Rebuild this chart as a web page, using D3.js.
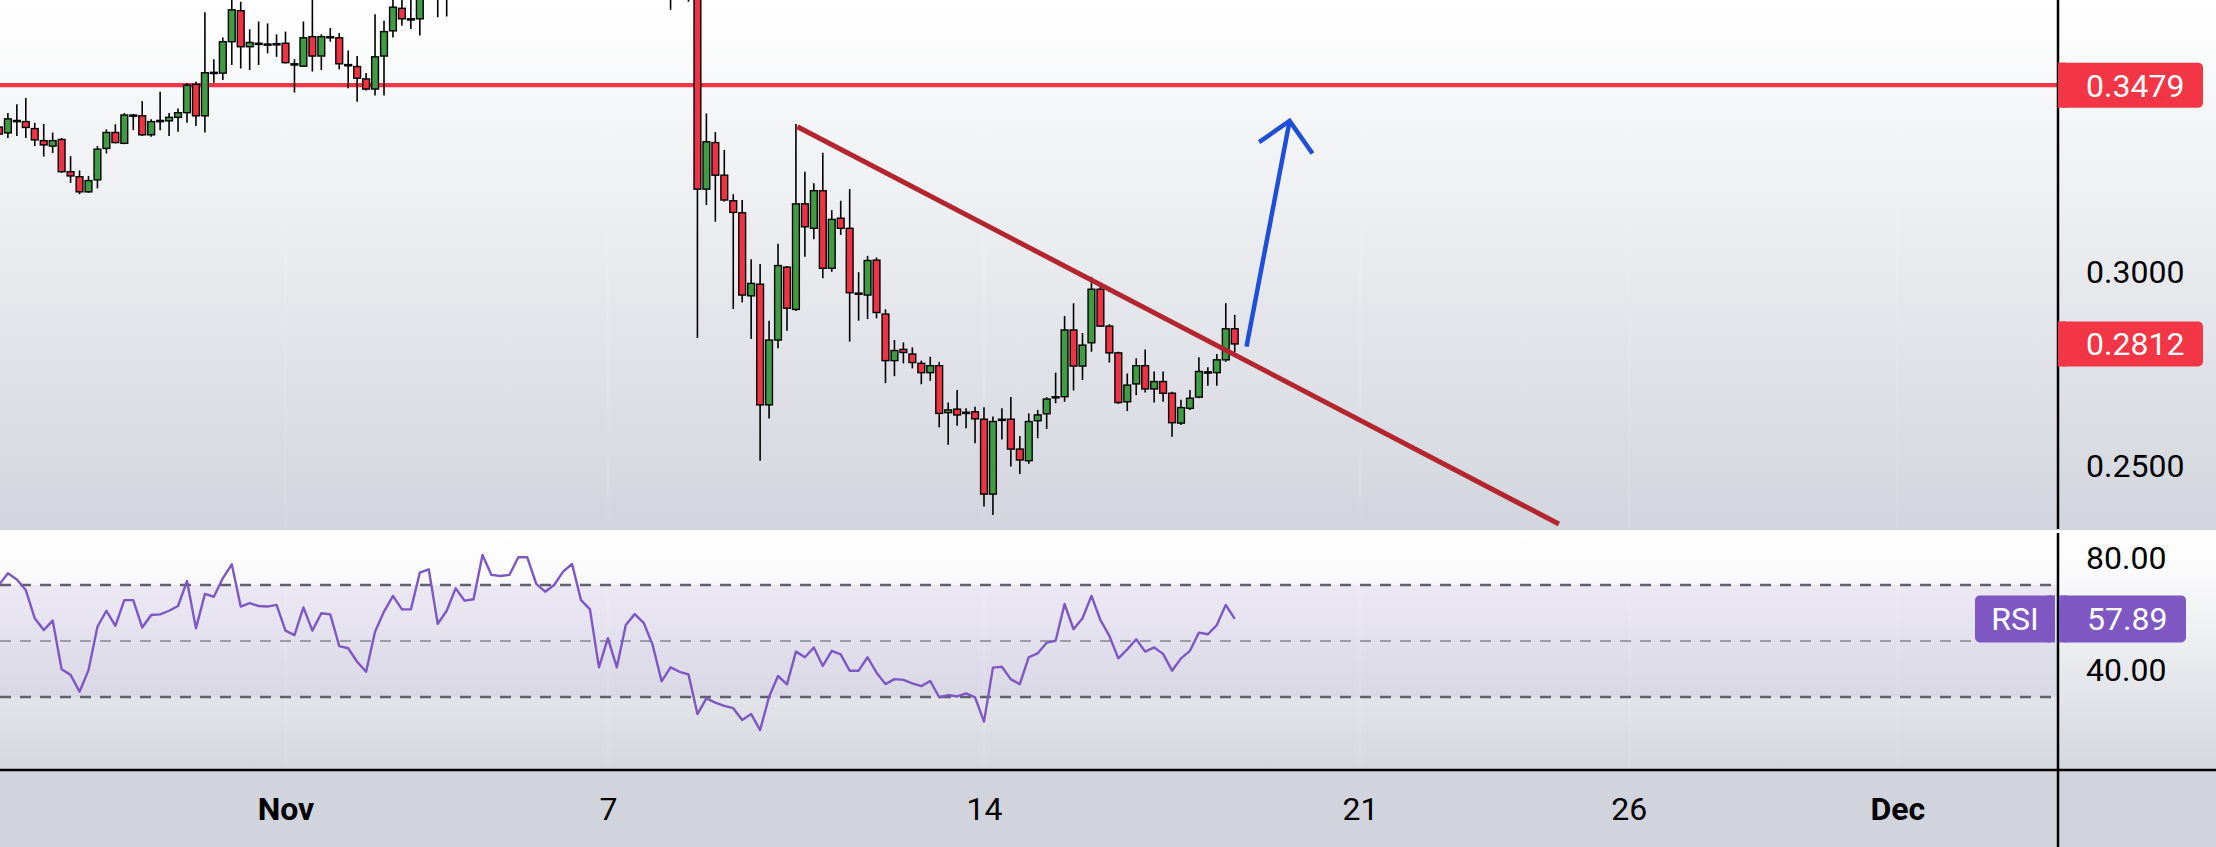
<!DOCTYPE html>
<html><head><meta charset="utf-8">
<script src="https://cdn.jsdelivr.net/npm/d3@7"></script>
<style>html,body{margin:0;padding:0;background:#fff;overflow:hidden}svg{display:block;font-family:Roboto,"Noto Sans",sans-serif}</style>
</head><body><svg id="c" width="2216" height="847"></svg>
<script>
// ---------- DATA ----------
const firstCandle = Date.UTC(2022, 9, 26, 16); // 4h candles
const candleHours = 4;
const opens = [.3371,.3356,.3386,.3385,.3367,.3336,.3322,.3339,.3256,.3243,.3204,.3235,.3316,.3357,.3329,.3402,.3400,.3351,.3388,.3387,.3396,.3408,.3481,.3400,.3511,.3510,.3591,.3671,.3578,.3587,
.3584,.3585,.3587,.3533,.3528,.3604,.3554,.3604,.3601,.3531,.3527,.3495,.3469,.3554,.3619,.3677,.3649,.3650,.3719,.3770,
.3712,.3740,.3800,.3780,.3785,.3880,.3850,.3848,.3855,.3920,.3922,.3890,.3875,.3890,.3925,.3950,.3890,.3875,.3770,.3810,
.3760,.3830,.3850,.3835,.3800,.3735,.3750,.3745,.3740,.3211,.3331,.3247,.3181,.3150,.2936,.2966,.2655,.2822,.3010,.2901,
.3173,.3110,.3207,.3007,.3136,.3110,.2943,.2938,.3028,.2889,.2769,.2798,.2786,.2762,.2738,.2756,.2635,.2644,.2635,.2637,
.2618,.2425,.2618,.2618,.2541,.2511,.2614,.2632,.2675,.2676,.2848,.2755,.2815,.2953,.2858,.2789,.2663,.2709,.2756,.2696,
.2715,.2685,.2608,.2646,.2675,.2738,.2738,.2771,.2851];
const highs = [.3381,.3407,.3430,.3446,.3382,.3379,.3357,.3343,.3296,.3259,.3245,.3322,.3365,.3378,.3407,.3405,.3438,.3391,.3462,.3407,.3419,.3484,.3488,.3667,.3546,.3602,.3706,.3694,.3623,.3643,
.3638,.3610,.3617,.3546,.3643,.3711,.3610,.3626,.3613,.3568,.3554,.3510,.3662,.3645,.3711,.3711,.3711,.3737,.3805,.3820,
.3790,.3830,.3825,.3815,.3910,.3905,.3875,.3880,.3950,.3945,.3935,.3910,.3915,.3945,.3985,.3965,.3905,.3885,.3830,.3825,
.3850,.3875,.3865,.3845,.3810,.3775,.3770,.3765,.3760,.3406,.3358,.3312,.3198,.3183,.3030,.3018,.2872,.3070,.3013,.3379,
.3256,.3226,.3305,.3157,.3181,.3211,.2997,.3039,.3035,.2901,.2822,.2816,.2803,.2769,.2779,.2766,.2661,.2693,.2646,.2650,
.2649,.2625,.2646,.2675,.2575,.2633,.2642,.2675,.2738,.2884,.2917,.2840,.2985,.2961,.2863,.2792,.2736,.2775,.2798,.2741,
.2741,.2689,.2668,.2693,.2778,.2752,.2786,.2917,.2887];
const lows = [.3348,.3343,.3348,.3343,.3322,.3295,.3304,.3253,.3227,.3198,.3202,.3213,.3303,.3329,.3327,.3363,.3348,.3346,.3363,.3348,.3359,.3382,.3374,.3357,.3485,.3492,.3531,.3522,.3518,.3531,
.3561,.3552,.3535,.3460,.3527,.3514,.3518,.3591,.3520,.3471,.3436,.3465,.3452,.3452,.3602,.3632,.3624,.3607,.3710,.3654,
.3656,.3725,.3760,.3750,.3775,.3830,.3825,.3830,.3845,.3895,.3870,.3855,.3860,.3880,.3915,.3870,.3850,.3740,.3750,.3735,
.3750,.3815,.3815,.3780,.3715,.3673,.3712,.3694,.2827,.3170,.3127,.3179,.2902,.2919,.2825,.2511,.2620,.2801,.2846,.2897,
.3037,.3082,.2981,.2998,.3093,.2818,.2872,.2876,.2878,.2711,.2729,.2762,.2749,.2708,.2717,.2597,.2552,.2601,.2595,.2556,
.2393,.2371,.2566,.2496,.2477,.2503,.2569,.2593,.2659,.2663,.2692,.2719,.2792,.2856,.2764,.2657,.2639,.2680,.2687,.2661,
.2663,.2573,.2603,.2642,.2672,.2704,.2704,.2766,.2791];
const closes = [.3353,.3392,.3388,.3370,.3338,.3325,.3336,.3256,.3245,.3204,.3233,.3314,.3357,.3331,.3402,.3401,.3351,.3385,.3387,.3396,.3408,.3479,.3400,.3511,.3512,.3591,.3673,.3578,.3589,.3586,
.3585,.3586,.3537,.3534,.3601,.3554,.3604,.3603,.3534,.3532,.3497,.3469,.3552,.3617,.3680,.3650,.3650,.3719,.3770,.3712,
.3740,.3800,.3780,.3785,.3880,.3850,.3848,.3855,.3920,.3922,.3890,.3875,.3890,.3925,.3950,.3890,.3875,.3770,.3810,.3760,
.3830,.3850,.3835,.3800,.3735,.3750,.3745,.3740,.3211,.3333,.3247,.3183,.3151,.2938,.2968,.2655,.2822,.3014,.2904,.3173,
.3114,.3207,.3007,.3133,.3110,.2944,.2942,.3027,.2893,.2769,.2795,.2790,.2764,.2738,.2756,.2633,.2642,.2629,.2636,.2619,
.2425,.2612,.2617,.2541,.2513,.2612,.2629,.2670,.2676,.2848,.2755,.2809,.2953,.2858,.2789,.2661,.2706,.2756,.2696,.2715,
.2685,.2609,.2648,.2672,.2741,.2740,.2771,.2851,.2812];
const rsiValues = [70,74.2,72,68.2,58.1,53.9,57.3,39.9,37.9,31.9,39.6,55.1,60.8,55.4,64.6,64.6,54.8,59.3,59.5,60.8,
62.5,71.4,54.5,66.8,65.8,72.4,77.4,62.3,63.5,62.5,62.3,62.9,53.7,52.1,62.0,53.7,59.9,59.5,48.2,47.4,
42.6,39.0,53.3,60.5,66.1,61.3,61.3,74.4,75.6,56.1,60.8,68.8,64.4,64.9,80.7,73.6,73.2,73.6,79.9,79.9,
70.4,67.6,70.0,74.8,77.5,64.6,61.3,40.6,51.0,40.6,55.7,59.6,56.5,48.6,35.6,40.6,39.0,38.1,23.9,29.5,
28.0,26.8,26.0,21.8,23.9,18.2,30.1,37.5,34.5,46.2,44.2,47.7,41.1,46.5,45.2,39.4,39.4,44.2,38.7,34.6,
36.4,36.1,34.9,33.9,35.7,29.9,30.7,30.2,31.3,29.9,21.2,40.5,40.8,36.3,34.6,44.2,45.6,49.4,50.1,63.2,
54.2,58.1,66.1,57.5,51.8,43.8,47.0,50.6,46.2,47.7,45.4,39.4,43.8,46.5,53.0,52.4,55.7,62.9,57.89];
const dateTicks = [Date.UTC(2022,10,1),Date.UTC(2022,10,7),Date.UTC(2022,10,14),Date.UTC(2022,10,21),Date.UTC(2022,10,26),Date.UTC(2022,11,1)];
const dateLabels = ["Nov","7","14","21","26","Dec"];
const boldLabels = ["Nov","Dec"];
const priceTicks = [0.25,0.30];
const rsiTicks = [40,80];
const rsiLevels = [70,50,30];
const resistance = 0.3479;
const trendLine = [{t:Date.UTC(2022,10,10,12,40),p:0.3372},{t:Date.UTC(2022,10,24,16,48),p:0.2348}];
const arrowShaft = [{t:Date.UTC(2022,10,18,21,16),p:0.2805},{t:Date.UTC(2022,10,19,16,31),p:0.3387}];
const arrowHead = [{t:Date.UTC(2022,10,19,2,53),p:0.3332},{t:Date.UTC(2022,10,19,16,31),p:0.3387},{t:Date.UTC(2022,10,20,2,44),p:0.3303}];

// ---------- LAYOUT ----------
const W=2216,H=847, PR=2058, MB=530, RT=531, RB=770;
const candles = opens.map((o,i)=>({t:new Date(firstCandle+i*candleHours*3600e3),o,h:highs[i],l:lows[i],c:closes[i],r:rsiValues[i]}));

const x = d3.scaleUtc().domain([new Date(Date.UTC(2022,10,1)),new Date(Date.UTC(2022,11,1))]).range([285.5,1897.4]);
const y = d3.scaleLinear().domain([0.25,0.30]).range([465,271]);
const yr = d3.scaleLinear().domain([30,70]).range([697,585]);

const svg = d3.select("#c");
const defs = svg.append("defs");
function vgrad(id,stops){const g=defs.append("linearGradient").attr("id",id).attr("x1",0).attr("y1",0).attr("x2",0).attr("y2",1);stops.forEach(s=>g.append("stop").attr("offset",s[0]).attr("stop-color",s[1]));}
vgrad("gMain",[[0,"#ffffff"],[1,"#d2d5dd"]]);
vgrad("gRsi",[[0,"#ffffff"],[0.15,"#fbfbfc"],[1,"#d5d7df"]]);
defs.append("clipPath").attr("id","cpMain").append("rect").attr("x",0).attr("y",0).attr("width",PR).attr("height",MB);
defs.append("clipPath").attr("id","cpRsi").append("rect").attr("x",0).attr("y",RT).attr("width",PR).attr("height",RB-RT);

// backgrounds
svg.append("rect").attr("x",0).attr("y",0).attr("width",W).attr("height",MB).attr("fill","url(#gMain)");
svg.append("rect").attr("x",0).attr("y",RT).attr("width",W).attr("height",RB-RT).attr("fill","url(#gRsi)");
svg.append("rect").attr("x",0).attr("y",RB).attr("width",W).attr("height",H-RB).attr("fill","#d1d4dc");
svg.append("rect").attr("x",0).attr("y",yr(70)).attr("width",PR).attr("height",yr(30)-yr(70)).attr("fill","#7e57c2").attr("opacity",0.09);

// faint vertical grid
svg.append("g").selectAll("line").data(dateTicks).join("line")
  .attr("x1",d=>x(d)).attr("x2",d=>x(d)).attr("y1",0).attr("y2",RB)
  .attr("stroke","#ffffff").attr("stroke-opacity",0.1).attr("stroke-width",2);

// RSI level lines
svg.append("g").selectAll("line").data(rsiLevels).join("line")
  .attr("x1",0).attr("x2",PR).attr("y1",d=>yr(d)).attr("y2",d=>yr(d))
  .attr("stroke",d=>d===50?"#9a9ca6":"#5f626e").attr("stroke-width",d=>d===50?2:2.5)
  .attr("stroke-dasharray","11,9");

// main panel
const gMain = svg.append("g").attr("clip-path","url(#cpMain)");
gMain.append("line").attr("x1",0).attr("x2",PR).attr("y1",y(resistance)).attr("y2",y(resistance))
  .attr("stroke","#f23645").attr("stroke-width",4.2);
const cg = gMain.append("g");
cg.selectAll("line").data(candles).join("line")
  .attr("x1",d=>x(d.t)).attr("x2",d=>x(d.t)).attr("y1",d=>y(d.h)).attr("y2",d=>y(d.l))
  .attr("stroke","#000").attr("stroke-width",1.6);
cg.selectAll("rect").data(candles).join("rect")
  .attr("x",d=>x(d.t)-3.4).attr("width",6.8)
  .attr("y",d=>y(Math.max(d.o,d.c)))
  .attr("height",d=>Math.max(1.2,Math.abs(y(d.o)-y(d.c))))
  .attr("fill",d=>d.c>=d.o?"#3f9c43":"#ee3345")
  .attr("stroke","#000").attr("stroke-width",1.4);
const lineP = d3.line().x(d=>x(new Date(d.t))).y(d=>y(d.p));
gMain.append("path").attr("d",lineP(trendLine)).attr("fill","none").attr("stroke","#b3262f").attr("stroke-width",5).attr("stroke-linecap","butt");
gMain.append("path").attr("d",lineP(arrowShaft)).attr("fill","none").attr("stroke","#1f4fd6").attr("stroke-width",4.5);
gMain.append("path").attr("d",lineP(arrowHead)).attr("fill","none").attr("stroke","#1f4fd6").attr("stroke-width",4.5).attr("stroke-linejoin","miter");

// RSI line
svg.append("g").attr("clip-path","url(#cpRsi)").append("path")
  .attr("d",d3.line().x(d=>x(d.t)).y(d=>yr(d.r))(candles))
  .attr("fill","none").attr("stroke","#7e57c2").attr("stroke-width",2.4).attr("stroke-linejoin","round");

// dividers
svg.append("line").attr("x1",PR).attr("x2",PR).attr("y1",0).attr("y2",MB-1).attr("stroke","#000").attr("stroke-width",2.5);
svg.append("line").attr("x1",PR).attr("x2",PR).attr("y1",RT+2).attr("y2",H).attr("stroke","#000").attr("stroke-width",2.5);
svg.append("line").attr("x1",0).attr("x2",W).attr("y1",RB).attr("y2",RB).attr("stroke","#000").attr("stroke-width",2.5);

// axes
const fontSize = 32;
const xAx = svg.append("g").attr("transform","translate(0,808)")
  .call(d3.axisBottom(x).tickValues(dateTicks.map(d=>new Date(d))).tickFormat((d,i)=>dateLabels[i]).tickSize(0).tickPadding(0));
xAx.select(".domain").remove();
xAx.selectAll("text").attr("y",0).attr("dy","0.36em").attr("fill","#000")
  .style("font-size",fontSize+"px").style("font-family","Roboto, sans-serif")
  .style("font-weight",function(){return boldLabels.includes(this.textContent)?700:400;});

const yAx = svg.append("g").attr("transform","translate(2086,0)")
  .call(d3.axisRight(y).tickValues(priceTicks).tickFormat(d3.format(".4f")).tickSize(0).tickPadding(0));
yAx.select(".domain").remove();
yAx.selectAll("text").attr("x",0).attr("dy","0.36em").attr("fill","#000").style("font-size",fontSize+"px").style("font-family","Roboto, sans-serif");

const rAx = svg.append("g").attr("transform","translate(2086,0)")
  .call(d3.axisRight(yr).tickValues(rsiTicks).tickFormat(d3.format(".2f")).tickSize(0).tickPadding(0));
rAx.select(".domain").remove();
rAx.selectAll("text").attr("x",0).attr("dy","0.36em").attr("fill","#000").style("font-size",fontSize+"px").style("font-family","Roboto, sans-serif");

// tags
function tag(cy,x0,x1,h,color,text,tx,anchor,roundSide){
  const g=svg.append("g");
  g.append("rect").attr("x",x0).attr("y",cy-h/2).attr("width",x1-x0).attr("height",h).attr("rx",5).attr("fill",color);
  if(roundSide==="right") g.append("rect").attr("x",x0).attr("y",cy-h/2).attr("width",8).attr("height",h).attr("fill",color);
  else g.append("rect").attr("x",x1-8).attr("y",cy-h/2).attr("width",8).attr("height",h).attr("fill",color);
  g.append("text").attr("x",tx).attr("y",cy).attr("dy","0.36em").attr("text-anchor",anchor)
   .attr("fill","#fff").style("font-size",fontSize+"px").style("font-family","Roboto, sans-serif").text(text);
}
const lastC = candles[candles.length-1];
tag(y(resistance),PR,2203,45,"#f23645",d3.format(".4f")(resistance),2086,"start","right");
tag(y(lastC.c),PR,2203,45,lastC.c>=lastC.o?"#3f9c43":"#f23645",d3.format(".4f")(lastC.c),2086,"start","right");
tag(yr(lastC.r),PR+1,2186,47,"#7e57c2",d3.format(".2f")(lastC.r),2087,"start","right");
tag(yr(lastC.r),1975,2055,47,"#7e57c2","RSI",2015,"middle","left");
</script></body></html>
